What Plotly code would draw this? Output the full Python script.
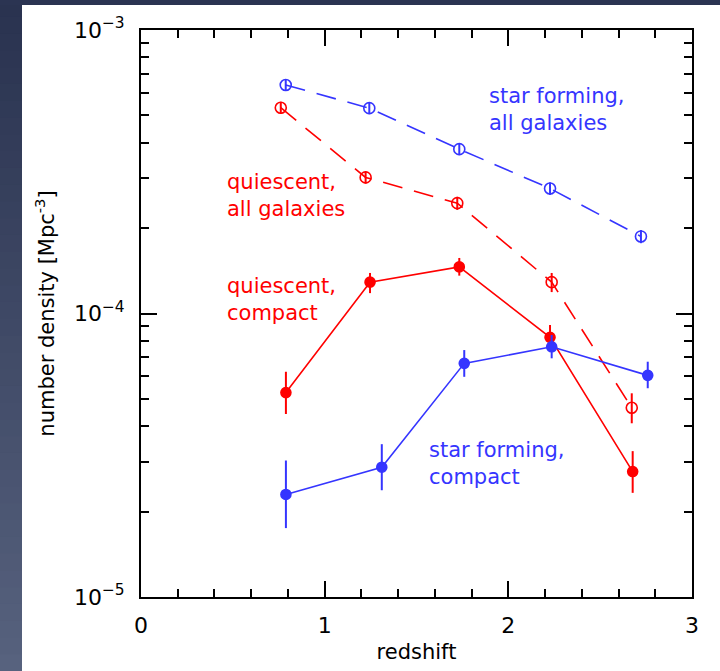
import numpy as np
import plotly.graph_objects as go

# Number density of galaxies versus redshift
z_sf_all = [0.788, 1.243, 1.733, 2.227, 2.722]
n_sf_all = [6.40e-4, 5.30e-4, 3.80e-4, 2.76e-4, 1.87e-4]
hi_sf_all = [6.68e-4, 5.55e-4, 3.98e-4, 2.90e-4, 1.97e-4]
lo_sf_all = [6.12e-4, 5.05e-4, 3.62e-4, 2.62e-4, 1.77e-4]

z_q_all = [0.761, 1.223, 1.722, 2.236, 2.672]
n_q_all = [5.32e-4, 3.02e-4, 2.45e-4, 1.29e-4, 4.65e-5]
hi_q_all = [5.58e-4, 3.17e-4, 2.58e-4, 1.39e-4, 5.23e-5]
lo_q_all = [5.06e-4, 2.87e-4, 2.32e-4, 1.19e-4, 4.10e-5]

z_q_cmp = [0.789, 1.247, 1.733, 2.227, 2.677]
n_q_cmp = [5.26e-5, 1.29e-4, 1.46e-4, 8.24e-5, 2.77e-5]
hi_q_cmp = [6.23e-5, 1.39e-4, 1.57e-4, 9.11e-5, 3.27e-5]
lo_q_cmp = [4.42e-5, 1.18e-4, 1.36e-4, 7.55e-5, 2.33e-5]

z_sf_cmp = [0.789, 1.311, 1.760, 2.236, 2.759]
n_sf_cmp = [2.30e-5, 2.87e-5, 6.67e-5, 7.63e-5, 6.05e-5]
hi_sf_cmp = [3.03e-5, 3.46e-5, 7.43e-5, 8.40e-5, 6.76e-5]
lo_sf_cmp = [1.75e-5, 2.38e-5, 5.98e-5, 6.95e-5, 5.45e-5]

x_ticks = [0, 1, 2, 3]
y_ticks = [1e-5, 1e-4, 1e-3]
y_tick_text = ["10<sup>−5</sup>", "10<sup>−4</sup>", "10<sup>−3</sup>"]

RED = "#ff0000"
BLUE = "#3535ff"
FONT = "DejaVu Sans"


def series(z, n, hi, lo, color, filled, dashed):
    n = np.asarray(n)
    return go.Scatter(
        x=z, y=n, mode="lines+markers",
        line=dict(color=color, width=1.6, dash="20px,12px" if dashed else "solid"),
        marker=dict(
            symbol="circle" if filled else "circle-open",
            size=10 if filled else 11,
            color=color,
            line=dict(color=color, width=1.6),
        ),
        error_y=dict(
            type="data", symmetric=False,
            array=np.asarray(hi) - n, arrayminus=n - np.asarray(lo),
            color=color, thickness=2, width=0,
        ),
        showlegend=False,
    )


fig = go.Figure()
fig.add_trace(series(z_sf_all, n_sf_all, hi_sf_all, lo_sf_all, BLUE, False, True))
fig.add_trace(series(z_q_all, n_q_all, hi_q_all, lo_q_all, RED, False, True))
fig.add_trace(series(z_q_cmp, n_q_cmp, hi_q_cmp, lo_q_cmp, RED, True, False))
fig.add_trace(series(z_sf_cmp, n_sf_cmp, hi_sf_cmp, lo_sf_cmp, BLUE, True, False))

labels = [
    ("star forming,<br>all galaxies", 1.882, -3.279, BLUE),
    ("quiescent,<br>all galaxies", 0.457, -3.584, RED),
    ("quiescent,<br>compact", 0.457, -3.950, RED),
    ("star forming,<br>compact", 1.556, -4.528, BLUE),
]
for text, x, ly, color in labels:
    fig.add_annotation(
        x=x, y=ly, xref="x", yref="y", text=text, showarrow=False,
        xanchor="left", yanchor="middle", align="left",
        font=dict(family=FONT, size=21, color=color),
    )

# Dark frame on the left and top edges of the page
W, H = 720, 671
ML, MR, MT, MB = 141, 28, 30, 74
pw, ph = W - ML - MR, H - MT - MB


def px_x(p):
    return (p - ML) / pw


def px_y(p):
    return (H - MB - p) / ph


top_col = np.array([0x2a, 0x33, 0x50])
bot_col = np.array([0x57, 0x62, 0x7e])
shapes = []
nstrip = 40
for i in range(nstrip):
    t = i / (nstrip - 1)
    c = (top_col + (bot_col - top_col) * t).astype(int)
    y0 = i * H / nstrip
    y1 = (i + 1) * H / nstrip + 1
    shapes.append(dict(
        type="rect", xref="paper", yref="paper", layer="below",
        x0=px_x(-2), x1=px_x(22), y0=px_y(y1), y1=px_y(y0),
        fillcolor="rgb(%d,%d,%d)" % tuple(c), line=dict(width=0),
    ))
shapes.append(dict(
    type="rect", xref="paper", yref="paper", layer="below",
    x0=px_x(-2), x1=px_x(W + 2), y0=px_y(5), y1=px_y(-2),
    fillcolor="#2b3452", line=dict(width=0),
))

axis_common = dict(
    showline=True, linecolor="black", linewidth=2, mirror="allticks",
    ticks="inside", ticklen=16, tickwidth=1.5, tickcolor="black",
    showgrid=False, zeroline=False,
    tickfont=dict(family=FONT, size=22, color="black"),
    title_font=dict(family=FONT, size=21, color="black"),
)

fig.update_layout(
    width=W, height=H,
    margin=dict(l=ML, r=MR, t=MT, b=MB),
    paper_bgcolor="white", plot_bgcolor="white",
    shapes=shapes,
    xaxis=dict(
        range=[0, 3], tickvals=x_ticks, ticklabelstandoff=8,
        minor=dict(tickvals=[i * 0.2 for i in range(16)], ticks="inside",
                   ticklen=8, tickwidth=1.5, tickcolor="black", showgrid=False),
        title=dict(text="redshift", standoff=7),
        **axis_common,
    ),
    yaxis=dict(
        type="log", range=[-5, -3], tickvals=y_ticks, ticktext=y_tick_text,
        ticklabelstandoff=10,
        minor=dict(
            tickvals=[m * 10.0 ** e for e in (-5, -4) for m in range(2, 10)],
            ticks="inside", ticklen=8, tickwidth=1.5, tickcolor="black", showgrid=False,
        ),
        title=dict(text="number density [Mpc<sup>-3</sup>]", standoff=14),
        **axis_common,
    ),
)

fig.write_html("out.html")
